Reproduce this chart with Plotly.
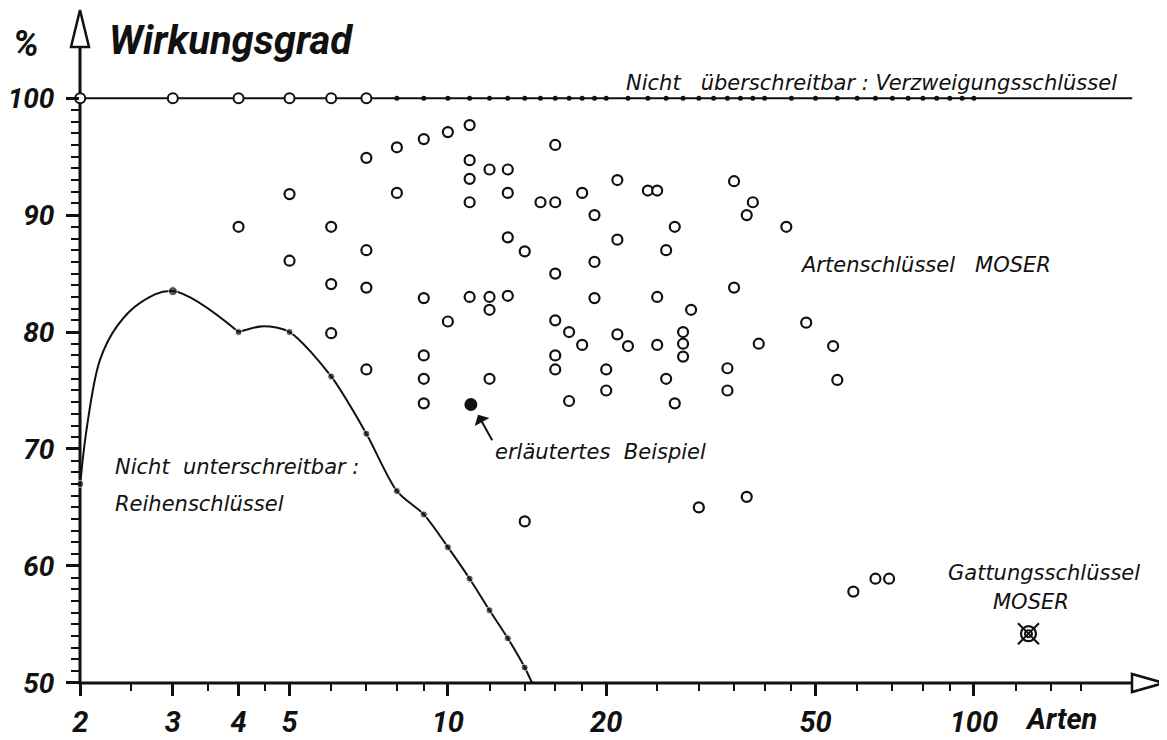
import numpy as np
import plotly.graph_objects as go

# ---------------- data ----------------
# upper bound line (Verzweigungsschlüssel), 100 %
top_level = 100
top_line_x = [2, 200]
top_open_x = [2, 3, 4, 5, 6, 7]
top_dot_x = [8, 9, 10, 11, 12, 13, 14, 15, 16, 17, 18, 19, 20, 22, 24, 26, 28, 30,
             32, 34, 36, 38, 40, 45, 50, 55, 60, 65, 70, 75, 80, 85, 90, 95, 100]

# lower bound (Reihenschlüssel): marked points
reihen_x = [2, 3, 4, 5, 6, 7, 8, 9, 10, 11, 12, 13, 14]
reihen_y = [67.0, 83.5, 80.0, 80.0, 76.2, 71.3, 66.4, 64.4, 61.6, 58.9, 56.2, 53.8, 51.3]
# lower bound curve as drawn (two pieces, cusp at 4)
curve_a_x = [2, 2.06, 2.18, 2.35, 2.6, 3, 4]
curve_a_y = [67.0, 71.9, 77.6, 80.5, 82.5, 83.5, 80.0]
curve_b_x = [4, 4.46, 5, 6, 7, 8, 9, 10, 11, 12, 13, 14, 14.45]
curve_b_y = [80.0, 80.5, 80.0, 76.2, 71.3, 66.4, 64.4, 61.6, 58.9, 56.2, 53.8, 51.3, 50.0]

# Artenschlüssel MOSER (open circles)
arten_x = [4, 5, 5, 6, 6, 6,
           7, 7, 7, 7,
           8, 8,
           9, 9, 9, 9, 9,
           10, 10,
           11, 11, 11, 11, 11,
           12, 12, 12, 12,
           13, 13, 13, 13,
           14, 14,
           15,
           16, 16, 16, 16, 16, 16,
           17, 17,
           18, 18,
           19, 19, 19,
           20, 20,
           21, 21, 21,
           22,
           24, 25, 25, 25,
           26, 26,
           27, 27,
           28, 28, 28,
           29,
           30,
           34, 34,
           35, 35,
           37, 37,
           38,
           39,
           44,
           48,
           54, 55,
           59, 65, 69]
arten_y = [89.0, 91.8, 86.1, 89.0, 84.1, 79.9,
           94.9, 87.0, 83.8, 76.8,
           95.8, 91.9,
           96.5, 82.9, 78.0, 76.0, 73.9,
           97.1, 80.9,
           97.7, 94.7, 93.1, 91.1, 83.0,
           93.9, 83.0, 81.9, 76.0,
           93.9, 91.9, 88.1, 83.1,
           86.9, 63.8,
           91.1,
           96.0, 91.1, 85.0, 81.0, 78.0, 76.8,
           80.0, 74.1,
           91.9, 78.9,
           90.0, 86.0, 82.9,
           76.8, 75.0,
           93.0, 87.9, 79.8,
           78.8,
           92.1, 92.1, 83.0, 78.9,
           87.0, 76.0,
           89.0, 73.9,
           80.0, 79.0, 77.9,
           81.9,
           65.0,
           76.9, 75.0,
           92.9, 83.8,
           90.0, 65.9,
           91.1,
           79.0,
           89.0,
           80.8,
           78.8, 75.9,
           57.8, 58.9, 58.9]

# explained example (filled) and Gattungsschlüssel MOSER
beispiel_x = [11.06]
beispiel_y = [73.8]
gattung_x = [127]
gattung_y = [54.2]

x_major = [2, 3, 4, 5, 10, 20, 50, 100]
x_major_text = ["2", "3", "4", "5", "10", "20", "50", "100"]
x_minor = [2.5, 3.5, 4.5, 6, 7, 8, 9, 12, 14, 16, 18, 25, 30, 35, 40, 45,
           60, 70, 80, 90, 120, 140, 160]
y_major = [50, 60, 70, 80, 90, 100]
y_minor = [v for v in range(51, 100) if v % 10 != 0]

# ---------------- geometry (page pixels) ----------------
PAGE_W, PAGE_H = 1167, 740
OFF = 8                      # default body margin of the html page
W, H = PAGE_W - OFF, PAGE_H - OFF
L, R, T, B = 80, 1165, 12, 683.5
PX_DEC = 526.0
PX_UNIT = 11.7
x_lo = np.log10(2) - 0.0004
x_hi = x_lo + (R - L) / PX_DEC
y_lo = 50 - 0.02
y_hi = y_lo + (B - T) / PX_UNIT


def px(x):
    return (x - L) / (R - L)


def py(y):
    return (B - y) / (B - T)


FONT = "Roboto"
TXT_FONT = "DejaVu Sans"
BLACK = "#111111"

fig = go.Figure()

# 100 % line
fig.add_trace(go.Scatter(x=top_line_x, y=[top_level] * len(top_line_x), mode="lines",
                         line=dict(color=BLACK, width=2), cliponaxis=False, hoverinfo="skip"))
fig.add_trace(go.Scatter(x=top_dot_x, y=[top_level] * len(top_dot_x), mode="markers",
                         marker=dict(symbol="circle", size=5, color=BLACK),
                         cliponaxis=False, hoverinfo="skip"))
fig.add_trace(go.Scatter(x=top_open_x, y=[top_level] * len(top_open_x), mode="markers",
                         marker=dict(symbol="circle", size=10, color="white",
                                     line=dict(color=BLACK, width=2)),
                         cliponaxis=False, hoverinfo="skip"))

# lower bound curve
for cx, cy, sm in ((curve_a_x, curve_a_y, 1.0), (curve_b_x, curve_b_y, 0.8)):
    fig.add_trace(go.Scatter(x=cx, y=cy, mode="lines",
                             line=dict(color=BLACK, width=2, shape="spline", smoothing=sm),
                             cliponaxis=False, hoverinfo="skip"))
fig.add_trace(go.Scatter(x=reihen_x, y=reihen_y, mode="markers",
                         marker=dict(symbol="circle", size=[7, 9] + [7] * (len(reihen_x) - 2),
                                     color=BLACK),
                         cliponaxis=False, hoverinfo="skip"))

# Artenschlüssel points
fig.add_trace(go.Scatter(x=arten_x, y=arten_y, mode="markers",
                         marker=dict(symbol="circle", size=10, color="white",
                                     line=dict(color=BLACK, width=2.2)),
                         cliponaxis=False, hoverinfo="skip"))
fig.add_trace(go.Scatter(x=beispiel_x, y=beispiel_y, mode="markers",
                         marker=dict(symbol="circle", size=13, color=BLACK),
                         cliponaxis=False, hoverinfo="skip"))

# Gattungsschlüssel symbol
fig.add_trace(go.Scatter(x=gattung_x, y=gattung_y, mode="markers",
                         marker=dict(symbol="x-thin-open", size=21, color=BLACK,
                                     line=dict(color=BLACK, width=2.2)),
                         cliponaxis=False, hoverinfo="skip"))
fig.add_trace(go.Scatter(x=gattung_x, y=gattung_y, mode="markers",
                         marker=dict(symbol="circle", size=15, color="white",
                                     line=dict(color=BLACK, width=2.2)),
                         cliponaxis=False, hoverinfo="skip"))
fig.add_trace(go.Scatter(x=gattung_x, y=gattung_y, mode="markers",
                         marker=dict(symbol="x-thin-open", size=11, color=BLACK,
                                     line=dict(color=BLACK, width=2)),
                         cliponaxis=False, hoverinfo="skip"))
fig.add_trace(go.Scatter(x=gattung_x, y=gattung_y, mode="markers",
                         marker=dict(symbol="circle-open", size=7, color=BLACK,
                                     line=dict(color=BLACK, width=2)),
                         cliponaxis=False, hoverinfo="skip"))

tickfont = dict(family=FONT, size=29, color=BLACK, weight="bold", style="italic")
ytickfont = dict(family=FONT, size=28, color=BLACK, weight="bold", style="italic")

fig.update_layout(
    width=W, height=H, autosize=False,
    margin=dict(l=L - OFF, r=PAGE_W - R, t=T - OFF, b=PAGE_H - B, pad=0, autoexpand=False),
    paper_bgcolor="white", plot_bgcolor="white",
    showlegend=False,
    xaxis=dict(type="log", range=[x_lo, x_hi], showgrid=False, zeroline=False,
               showline=False, ticks="outside", ticklen=12, tickwidth=2.5,
               tickcolor=BLACK, tickvals=x_major, ticktext=x_major_text,
               tickfont=tickfont, ticklabelstandoff=1, automargin=False,
               minor=dict(tickmode="array", tickvals=x_minor, ticks="outside",
                          ticklen=7, tickwidth=2, tickcolor=BLACK, showgrid=False)),
    yaxis=dict(range=[y_lo, y_hi], showgrid=False, zeroline=False, showline=False,
               ticks="outside", ticklen=13, tickwidth=2.5, tickcolor=BLACK,
               tickvals=y_major, ticktext=[str(v) for v in y_major],
               tickfont=ytickfont, ticklabelstandoff=6, automargin=False,
               minor=dict(tickmode="array", tickvals=y_minor, ticks="outside",
                          ticklen=8, tickwidth=2, tickcolor=BLACK, showgrid=False)),
)

# axes with open arrow heads
shapes = [
    dict(type="line", xref="paper", yref="paper", x0=px(80), y0=py(B + 1), x1=px(80), y1=py(47),
         line=dict(color=BLACK, width=3), layer="below"),
    dict(type="line", xref="paper", yref="paper", x0=px(78.5), y0=py(B), x1=px(1132), y1=py(B),
         line=dict(color=BLACK, width=3), layer="below"),
    dict(type="path", xref="paper", yref="paper",
         path=f"M {px(71)} {py(47)} L {px(80)} {py(10)} L {px(89)} {py(47)} Z",
         line=dict(color=BLACK, width=2.5), fillcolor="white", layer="above"),
    dict(type="path", xref="paper", yref="paper",
         path=f"M {px(1132)} {py(B - 9)} L {px(1164)} {py(B)} L {px(1132)} {py(B + 9)} Z",
         line=dict(color=BLACK, width=2.5), fillcolor="white", layer="above"),
]
fig.update_layout(shapes=shapes)

lab = dict(family=TXT_FONT, size=21, color=BLACK, style="italic")
big = dict(family=FONT, size=40, color=BLACK, weight="bold", style="italic")
NB = "\u00a0"


def ann(text, x, y, font, xanchor="left"):
    fig.add_annotation(text=text, x=px(x), y=py(y), xref="paper", yref="paper",
                       xanchor=xanchor, yanchor="middle", showarrow=False, font=font)


ann("%", 26, 44, dict(family=FONT, size=36, color=BLACK, weight="bold", style="italic"), "center")
ann("Wirkungsgrad", 107, 41, big)
ann(f"Nicht {NB}{NB}überschreitbar : Verzweigungsschlüssel", 624, 83, lab)
ann(f"Artenschlüssel {NB}{NB}MOSER", 798, 265, lab)
ann(f"Nicht {NB}unterschreitbar :", 113, 467, lab)
ann("Reihenschlüssel", 113, 504, lab)
ann(f"erläutertes {NB}Beispiel", 493, 452, lab)
ann("Gattungsschlüssel", 1044, 573, lab, "center")
ann("MOSER", 1031, 602, lab, "center")
ann("Arten", 1023, 720, tickfont)

# arrow to the explained example
fig.add_annotation(x=px(478), y=py(415), xref="paper", yref="paper", text="",
                   showarrow=True, ax=15, ay=27, arrowhead=1, arrowsize=1.4,
                   arrowwidth=2, arrowcolor=BLACK)

fig.write_html("out.html")
